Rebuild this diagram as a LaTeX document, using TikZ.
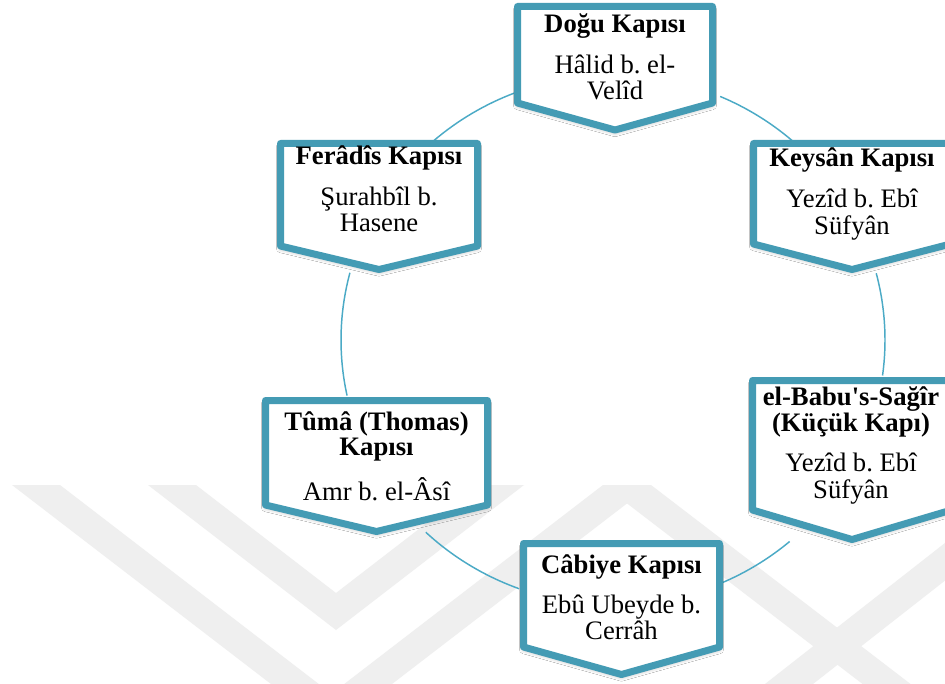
\documentclass[tikz,border=0pt]{standalone}
\usepackage{fontspec}
\setmainfont{Liberation Serif}
\usetikzlibrary{shadows.blur}
\definecolor{gateblue}{RGB}{68,155,180}
\definecolor{linkblue}{RGB}{75,170,198}
\definecolor{wmgray}{RGB}{239,239,239}
\newcommand\gatefont{\fontsize{20pt}{19pt}\selectfont\frenchspacing}
\begin{document}
\begin{tikzpicture}[x=0.75pt,y=-0.75pt,
  gatebox/.style={draw=gateblue, line width=5.25pt, fill=white, line join=round,
    blur shadow={shadow xshift=0pt, shadow yshift=-2pt, shadow blur radius=3pt,
      shadow opacity=30, shadow blur steps=6}},
  gatetext/.style={anchor=base, inner sep=0pt, font=\gatefont},
  link/.style={draw=linkblue, line width=1.1pt},
  wmband/.style={fill=wmgray, draw=none}]
\useasboundingbox (0,0) rectangle (945,684);
\fill[white] (0,0) rectangle (945,684);
% faint watermark
\fill[wmband] (12,485) -- (60,485) -- (331.5,693.8) -- (603,485) -- (651,485) -- (331.5,730.5) -- cycle;
\fill[wmband] (148,485) -- (196,485) -- (336,593) -- (476,485) -- (524,485) -- (336,630) -- cycle;
\fill[wmband] (603,485) -- (651,485) -- (951,715) -- (903,715) -- cycle;
\fill[wmband] (765,684) -- (813,684) -- (1067,485) -- (1019,485) -- cycle;
% connectors on the ring
\coordinate (ctr) at (613,340);
\draw[link] (ctr) ++(-66.8:272 and 265) arc[start angle=-66.8, end angle=-48.7, x radius=272, y radius=265];
\draw[link] (ctr) ++(-14.6:272 and 265) arc[start angle=-14.6, end angle=7.7, x radius=272, y radius=265];
\draw[link] (ctr) ++(49.5:272 and 265) arc[start angle=49.5, end angle=66.4, x radius=272, y radius=265];
\draw[link] (ctr) ++(110.2:272 and 265) arc[start angle=110.2, end angle=133.5, x radius=272, y radius=265];
\draw[link] (ctr) ++(-192.1:272 and 265) arc[start angle=-192.1, end angle=-165.3, x radius=272, y radius=265];
\draw[link] (ctr) ++(-131.3:272 and 265) arc[start angle=-131.3, end angle=-111.3, x radius=272, y radius=265];
% gate boxes
\draw[gatebox] (517.5,6.5) -- (712.5,6.5) -- (712.5,103) -- (615,130) -- (517.5,103) -- cycle;
\draw[gatebox] (753.5,143.5) -- (950.5,143.5) -- (950.5,244) -- (852,269.5) -- (753.5,244) -- cycle;
\draw[gatebox] (752.5,380.5) -- (951.5,380.5) -- (951.5,510) -- (852,539.5) -- (752.5,510) -- cycle;
\draw[gatebox] (523.5,543.5) -- (719.5,543.5) -- (719.5,647) -- (621.5,674.5) -- (523.5,647) -- cycle;
\draw[gatebox] (265.5,400.5) -- (487.5,400.5) -- (487.5,505) -- (376.5,531.5) -- (265.5,505) -- cycle;
\draw[gatebox] (280.5,143.5) -- (477.5,143.5) -- (477.5,246) -- (379,269.5) -- (280.5,246) -- cycle;
% texts
\node[gatetext] (dogu) at (615,33) {\begin{tabular}[t]{@{}c@{}}\textbf{Doğu Kapısı}\\[11pt] Hâlid b. el-\\ Velîd\end{tabular}};
\node[gatetext] (keysan) at (852,167) {\begin{tabular}[t]{@{}c@{}}\textbf{Keysân Kapısı}\\[11pt] Yezîd b. Ebî\\ Süfyân\end{tabular}};
\node[gatetext] (babu) at (851,405) {\begin{tabular}[t]{@{}c@{}}\textbf{el-Babu\textquotesingle s-Sağîr}\\ \textbf{(Küçük Kapı)}\\[11pt] Yezîd b. Ebî\\ Süfyân\end{tabular}};
\node[gatetext] (cabiye) at (621.5,573) {\begin{tabular}[t]{@{}c@{}}\textbf{Câbiye Kapısı}\\[11pt] Ebû Ubeyde b.\\ Cerrâh\end{tabular}};
\node[gatetext] (tuma) at (376.5,430) {\begin{tabular}[t]{@{}c@{}}\textbf{Tûmâ (Thomas)}\\ \textbf{Kapısı}\\[11pt] Amr b. el-Âsî\end{tabular}};
\node[gatetext] (feradis) at (379,165) {\begin{tabular}[t]{@{}c@{}}\textbf{Ferâdîs Kapısı}\\[11pt] Şurahbîl b.\\ Hasene\end{tabular}};
\end{tikzpicture}
\end{document}
